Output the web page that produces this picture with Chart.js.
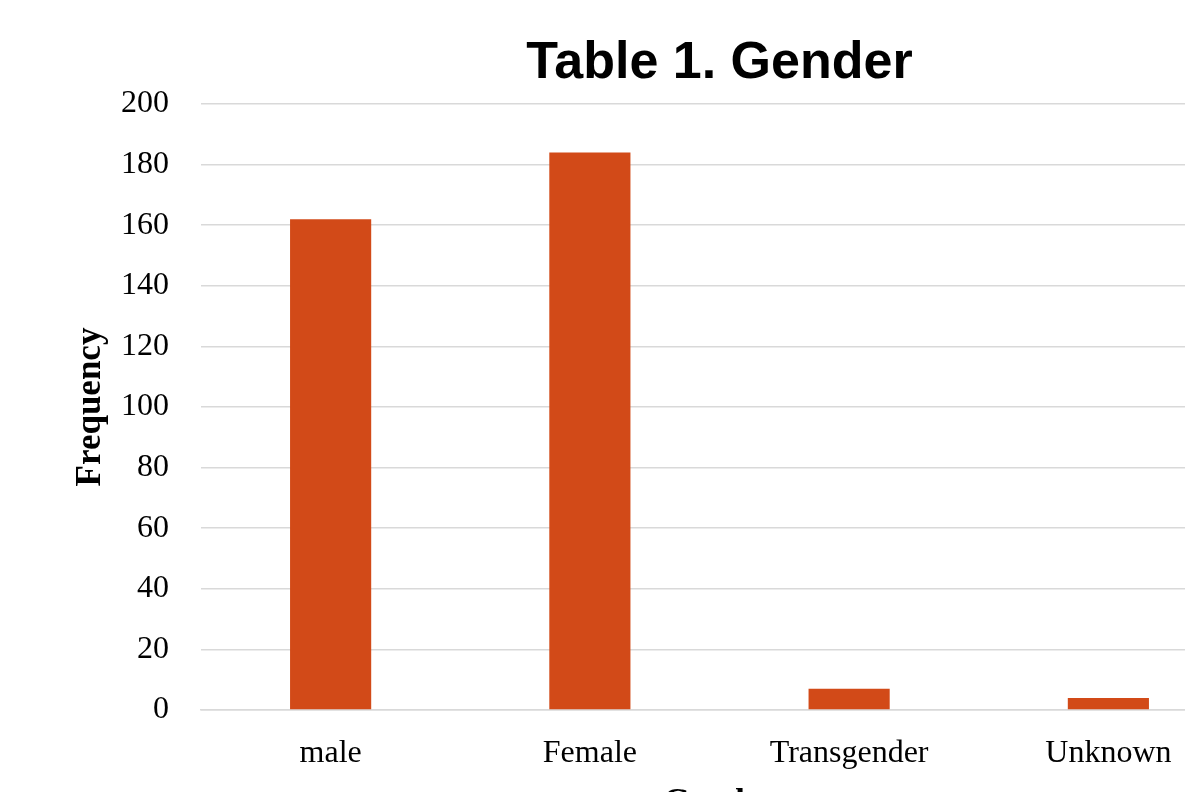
<!DOCTYPE html>
<html>
<head>
<meta charset="utf-8">
<title>Table 1. Gender</title>
<script src="https://cdn.jsdelivr.net/npm/chart.js@4"></script>
<style>
  html, body { margin: 0; padding: 0; background: #fff; overflow: hidden; }
  #wrap { width: 1240px; height: 825px; }
</style>
</head>
<body>
<div id="wrap"><canvas id="genderChart" width="1240" height="825"></canvas></div>
<script>
const chartTitle = 'Table 1. Gender';
const categories = ['male', 'Female', 'Transgender', 'Unknown'];
const frequencies = [162, 184, 7, 4];
const yTicks = [0, 20, 40, 60, 80, 100, 120, 140, 160, 180, 200];

const barColor = '#d24a18';
const gridColor = '#d9d9d9';
const serif = "'Liberation Serif', 'Times New Roman', serif";

// title centred over the plot area rather than the whole canvas
const plotTitle = {
    id: 'plotTitle',
    afterDraw(chart) {
        const { ctx, chartArea } = chart;
        ctx.save();
        ctx.font = "bold 52px 'Liberation Sans', Arial, sans-serif";
        ctx.fillStyle = '#000';
        ctx.textAlign = 'center';
        ctx.textBaseline = 'alphabetic';
        ctx.fillText(chartTitle, (chartArea.left + chartArea.right) / 2, 78);
        ctx.restore();
    }
};

const ctx = document.getElementById('genderChart').getContext('2d');
new Chart(ctx, {
    type: 'bar',
    data: {
        labels: categories,
        datasets: [{
            label: 'Frequency',
            data: frequencies,
            backgroundColor: barColor,
            borderWidth: 0,
            categoryPercentage: 1,
            barPercentage: 0.313
        }]
    },
    options: {
        responsive: false,
        animation: false,
        layout: { padding: { top: 104, right: 2, left: 0, bottom: 0 } },
        plugins: {
            legend: { display: false },
            tooltip: { enabled: false },
            title: { display: false }
        },
        scales: {
            x: {
                grid: { display: false, drawTicks: false },
                border: { display: true, color: gridColor, width: 1.5 },
                ticks: {
                    color: '#000',
                    padding: 24,
                    font: { family: serif, size: 32 }
                },
                title: {
                    display: true,
                    text: 'Gender',
                    color: '#000',
                    padding: { top: 8, bottom: 0 },
                    font: { family: serif, size: 35, weight: 'bold' }
                },
                afterFit(scale) { scale.height = 115; }
            },
            y: {
                min: 0,
                max: 200,
                afterBuildTicks(scale) {
                    scale.ticks = yTicks.map(v => ({ value: v }));
                },
                grid: { color: gridColor, lineWidth: 1.5, drawTicks: false },
                border: { display: false },
                ticks: {
                    color: '#000',
                    padding: 32,
                    font: { family: serif, size: 32 }
                },
                title: {
                    display: true,
                    text: 'Frequency',
                    color: '#000',
                    padding: { top: 70, bottom: 0 },
                    font: { family: serif, size: 35, weight: 'bold' }
                },
                afterFit(scale) { scale.width = 201; }
            }
        }
    },
    plugins: [plotTitle]
});
</script>
</body>
</html>
